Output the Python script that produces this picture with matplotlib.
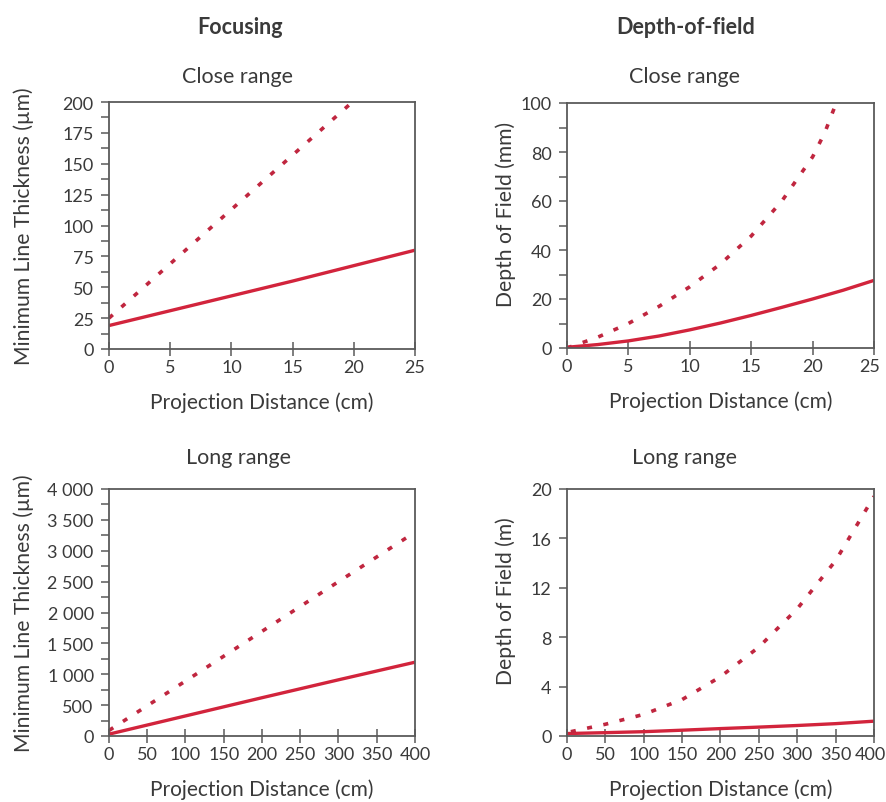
import numpy as np
import matplotlib
matplotlib.use("Agg")
import matplotlib.pyplot as plt
import matplotlib.transforms as mtransforms
from matplotlib.ticker import MultipleLocator, FuncFormatter

plt.rcParams['font.family'] = ['Lato', 'DejaVu Sans']

RED = '#d2243c'
RED_DASH = '#c0263f'
SPINE = '#5a5a5a'
TEXT = '#3a3a3a'

# Focusing, close range (µm vs cm)
fc_x = [0, 5, 10, 15, 20, 25]
fc_solid = [19, 31, 43, 55, 67.5, 80]
fc_dash_x = [0, 5, 10, 15, 20]
fc_dash = [25, 69, 113, 157, 201]

# Depth of field, close range (mm vs cm)
dc_x = [0, 2.5, 5, 7.5, 10, 12.5, 15, 17.5, 20, 22.5, 25]
dc_solid = [0.3, 1.4, 2.9, 4.9, 7.4, 10.2, 13.3, 16.6, 20.0, 23.6, 27.6]
dc_dash_x = [0, 2.5, 5, 7.5, 10, 12.5, 15, 17.5, 20, 21, 22]
dc_dash = [0, 4.4, 10, 17, 25, 34.3, 45.7, 60, 78, 88, 101]

# Focusing, long range (µm vs cm)
fl_x = [0, 100, 200, 300, 400]
fl_solid = [30, 325, 620, 910, 1195]
fl_dash_x = [0, 100, 200, 300, 400]
fl_dash = [90, 890, 1695, 2500, 3300]

# Depth of field, long range (m vs cm)
dl_x = [0, 50, 100, 150, 200, 250, 300, 350, 400]
dl_solid = [0.2, 0.27, 0.35, 0.47, 0.6, 0.72, 0.85, 1.0, 1.2]
dl_dash_x = [5, 50, 100, 150, 200, 250, 300, 350, 400]
dl_dash = [0.35, 0.95, 1.75, 2.95, 4.8, 7.2, 10.3, 14.2, 19.4]

W, H = 887, 803
fig = plt.figure(figsize=(W / 100, H / 100), dpi=100)


def box(l, t, r, b):
    return [l / W, 1 - b / H, (r - l) / W, (b - t) / H]


def space_thousands(v, pos):
    return f"{int(round(v)):,}".replace(",", " ")


def style(ax, xmax, xstep, ymax, ystep, yminor, ylabel, title, title_x,
          title_gap, ylabel_x, ylabel_y, fmt=None):
    ax.set_xlim(0, xmax)
    ax.set_ylim(0, ymax)
    ax.set_xticks(np.arange(0, xmax + xstep / 2, xstep))
    ax.set_yticks(np.arange(0, ymax + ystep / 2, ystep))
    if yminor:
        ax.yaxis.set_minor_locator(MultipleLocator(yminor))
    if fmt:
        ax.yaxis.set_major_formatter(FuncFormatter(fmt))
    for s in ax.spines.values():
        s.set_color(SPINE)
        s.set_linewidth(1.3)
    ax.tick_params(axis='y', which='major', direction='out', length=6, width=1.1,
                   color=SPINE, labelsize=13, labelcolor=TEXT, pad=5)
    ax.tick_params(axis='y', which='minor', direction='out', length=6, width=1.1,
                   color=SPINE)
    ax.tick_params(axis='x', which='major', direction='inout', length=10, width=1.1,
                   color=SPINE, labelsize=13, labelcolor=TEXT, pad=2)
    ax.set_xlabel('Projection Distance (cm)', fontsize=15, color=TEXT, labelpad=12)
    ax.set_ylabel(ylabel, fontsize=15.2, color=TEXT)
    ax.yaxis.set_label_coords(ylabel_x, ylabel_y)
    # subplot heading, placed in figure coordinates
    pos = ax.get_position()
    fig.text(title_x / W, pos.y1 + title_gap / H, title, fontsize=15.5,
             color=TEXT, ha='center', va='center')


def draw(ax, x, y, xd, yd):
    ax.plot(x, y, color=RED, lw=2.4, solid_capstyle='butt')
    ax.plot(xd, yd, color=RED_DASH, lw=2.6, dashes=(1.4, 3.2))


ax1 = fig.add_axes(box(109, 103, 415, 350))
draw(ax1, fc_x, fc_solid, fc_dash_x, fc_dash)
style(ax1, 25, 5, 200, 25, 12.5, 'Minimum Line Thickness (µm)', 'Close range',
      238, 26, -0.245, 0.5)

ax2 = fig.add_axes(box(567, 104, 874, 349))
draw(ax2, dc_x, dc_solid, dc_dash_x, dc_dash)
style(ax2, 25, 5, 100, 20, 10, 'Depth of Field (mm)', 'Close range',
      685, 27, -0.165, 0.55)

ax3 = fig.add_axes(box(109, 490, 415, 737))
draw(ax3, fl_x, fl_solid, fl_dash_x, fl_dash)
style(ax3, 400, 50, 4000, 500, 250, 'Minimum Line Thickness (µm)', 'Long range',
      238, 32, -0.245, 0.5, fmt=space_thousands)

ax4 = fig.add_axes(box(567, 490, 874, 737))
draw(ax4, dl_x, dl_solid, dl_dash_x, dl_dash)
style(ax4, 400, 50, 20, 4, None, 'Depth of Field (m)', 'Long range',
      685, 32, -0.165, 0.55)

# nudge the right-most tick labels so they stay on the canvas
shift = mtransforms.ScaledTranslation(-4 / 100, 0, fig.dpi_scale_trans)
for ax in (ax2, ax4):
    tick = ax.xaxis.get_major_ticks()[-1]
    tick.label1.set_transform(tick.label1.get_transform() + shift)

fig.text(240 / W, 1 - 27 / H, 'Focusing', fontsize=15.5, fontweight='bold',
         color=TEXT, ha='center', va='center')
fig.text(686 / W, 1 - 27 / H, 'Depth-of-field', fontsize=15.5, fontweight='bold',
         color=TEXT, ha='center', va='center')

fig.savefig('out.png', dpi=100, facecolor='white')
